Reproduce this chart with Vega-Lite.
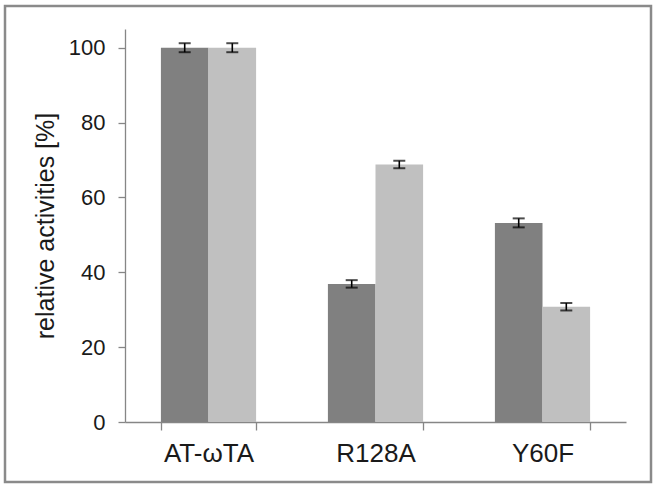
{
  "$schema": "https://vega.github.io/schema/vega-lite/v6.json",
  "width": 646,
  "height": 476,
  "autosize": {"type": "none"},
  "padding": {"left": 5, "top": 6, "right": 7, "bottom": 8},
  "background": "white",
  "config": {
    "view": {"stroke": "#8a8a8a", "strokeWidth": 2.5},
    "font": "Liberation Sans",
    "axis": {"grid": false, "domainColor": "#868686", "tickColor": "#868686", "domainWidth": 1.3, "tickWidth": 1.3, "labelColor": "#1a1a1a", "titleColor": "#1a1a1a", "labelFont": "Liberation Sans", "titleFont": "Liberation Sans"}
  },
  "data": {
    "values": [
      {"mutant": "AT-ωTA", "series": "s1", "value": 100, "lo": 98.8, "hi": 101.2},
      {"mutant": "AT-ωTA", "series": "s2", "value": 100, "lo": 98.8, "hi": 101.2},
      {"mutant": "R128A", "series": "s1", "value": 36.9, "lo": 35.9, "hi": 37.9},
      {"mutant": "R128A", "series": "s2", "value": 68.8, "lo": 67.8, "hi": 69.8},
      {"mutant": "Y60F", "series": "s1", "value": 53.2, "lo": 52.0, "hi": 54.4},
      {"mutant": "Y60F", "series": "s2", "value": 30.8, "lo": 29.8, "hi": 31.8}
    ]
  },
  "encoding": {
    "x": {
      "field": "mutant", "type": "nominal", "sort": null,
      "scale": {"range": [120, 621], "paddingInner": 0.43, "paddingOuter": 0.215},
      "axis": {"title": null, "labelAngle": 0, "labelFontSize": 26, "labelPadding": 10, "tickSize": 8, "tickBand": "extent", "offset": -60}
    },
    "xOffset": {"field": "series", "type": "nominal"}
  },
  "layer": [
    {
      "mark": {"type": "bar"},
      "encoding": {
        "y": {
          "field": "value", "type": "quantitative",
          "scale": {"domain": [0, 105], "range": [416, 23], "nice": false},
          "axis": {"title": "relative activities [%]", "titleFontSize": 25, "titleFontWeight": "normal", "titlePadding": 10, "values": [0, 20, 40, 60, 80, 100], "labelFontSize": 22, "labelPadding": 13, "tickSize": 7, "offset": -120}
        },
        "color": {"field": "series", "type": "nominal", "scale": {"range": ["#808080", "#c0c0c0"]}, "legend": null}
      }
    },
    {
      "mark": {"type": "rule", "color": "black", "strokeWidth": 1.6},
      "encoding": {
        "y": {"field": "lo", "type": "quantitative"},
        "y2": {"field": "hi"}
      }
    },
    {
      "mark": {"type": "tick", "color": "black", "thickness": 2, "size": 12},
      "encoding": {"y": {"field": "lo", "type": "quantitative"}}
    },
    {
      "mark": {"type": "tick", "color": "black", "thickness": 2, "size": 12},
      "encoding": {"y": {"field": "hi", "type": "quantitative"}}
    }
  ]
}
